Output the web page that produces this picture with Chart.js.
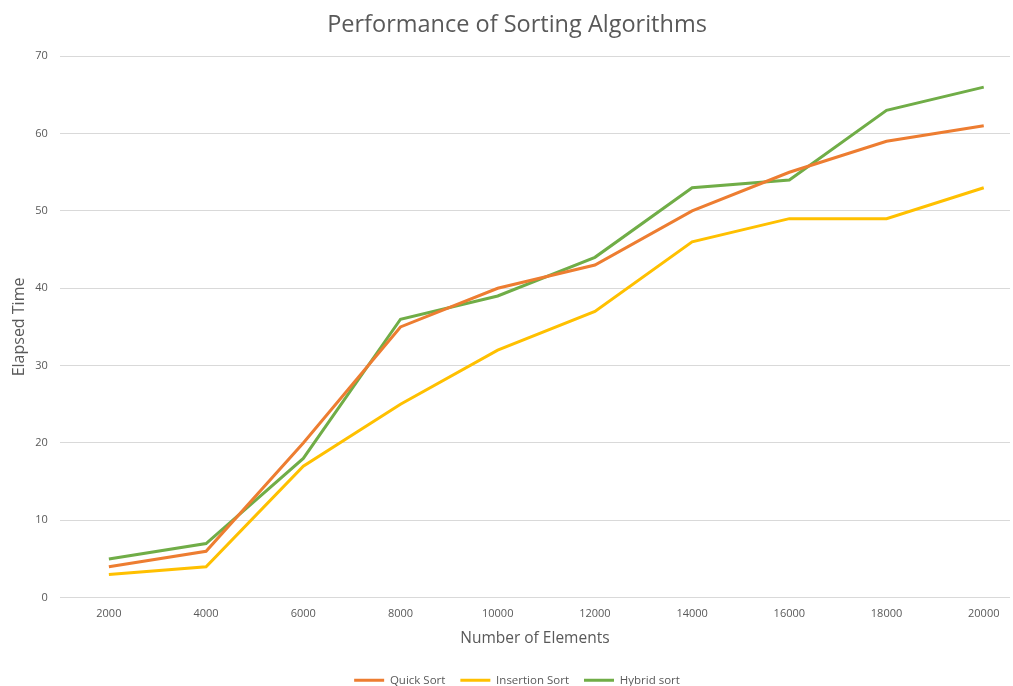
<!DOCTYPE html>
<html>
<head>
<meta charset="utf-8">
<script src="https://cdn.jsdelivr.net/npm/chart.js@4"></script>
<style>
  html, body { margin: 0; padding: 0; background: #fff; }
  #wrap { width: 1013px; height: 686px; }
</style>
</head>
<body>
<div id="wrap"><canvas id="sortChart"></canvas></div>
<script>
const elementCounts = [2000, 4000, 6000, 8000, 10000, 12000, 14000, 16000, 18000, 20000];
const quickSort     = [4, 6, 20, 35, 40, 43, 50, 55, 59, 61];
const insertionSort = [3, 4, 17, 25, 32, 37, 46, 49, 49, 53];
const hybridSort    = [5, 7, 18, 36, 39, 44, 53, 54, 63, 66];

const gray = '#595959';
const font = "'Open Sans', 'Noto Sans', sans-serif";

function toPoints(values) {
    return elementCounts.map((x, i) => ({ x: x, y: values[i] }));
}

function series(label, values, color) {
    return {
        label: label,
        data: toPoints(values),
        borderColor: color,
        backgroundColor: color,
        borderWidth: 3,
        pointRadius: 0,
        tension: 0
    };
}

const ctx = document.getElementById('sortChart').getContext('2d');
new Chart(ctx, {
    type: 'line',
    data: {
        datasets: [
            series('Quick Sort', quickSort, '#ED7D31'),
            series('Insertion Sort', insertionSort, '#FFC000'),
            series('Hybrid sort', hybridSort, '#70AD47')
        ]
    },
    options: {
        responsive: true,
        maintainAspectRatio: false,
        animation: false,
        // title and legend sit a little right of the canvas centre in the original
        layout: { padding: { top: 4, right: 3, left: 24, bottom: -10 } },
        scales: {
            x: {
                type: 'linear',
                min: 990,
                max: 20540,
                afterBuildTicks: function(axis) {
                    axis.ticks = elementCounts.map(v => ({ value: v }));
                },
                grid: { display: false },
                border: { display: false },
                ticks: {
                    color: gray,
                    font: { family: font, size: 11 },
                    padding: 2,
                    maxRotation: 0,
                    callback: function(value) { return String(value); }
                },
                title: {
                    display: true,
                    text: 'Number of Elements',
                    color: gray,
                    font: { family: font, size: 15.5 },
                    padding: { top: 6, bottom: 12 }
                }
            },
            y: {
                min: 0,
                max: 70,
                ticks: {
                    stepSize: 10,
                    color: gray,
                    font: { family: font, size: 11 },
                    padding: 12
                },
                grid: { color: '#d9d9d9', drawTicks: false },
                border: { display: false },
                title: {
                    display: true,
                    text: 'Elapsed Time',
                    color: gray,
                    font: { family: font, size: 16 },
                    padding: { top: -14, bottom: -6 }
                }
            }
        },
        plugins: {
            title: {
                display: true,
                text: 'Performance of Sorting Algorithms',
                color: gray,
                font: { family: font, size: 23.5, weight: 'normal' },
                padding: { top: 7, bottom: 17 }
            },
            legend: {
                position: 'bottom',
                labels: {
                    usePointStyle: true,
                    pointStyle: 'line',
                    pointStyleWidth: 30,
                    boxHeight: 3,
                    color: gray,
                    font: { family: font, size: 11.5 },
                    padding: 15
                }
            },
            tooltip: { enabled: false }
        }
    }
});
</script>
</body>
</html>
